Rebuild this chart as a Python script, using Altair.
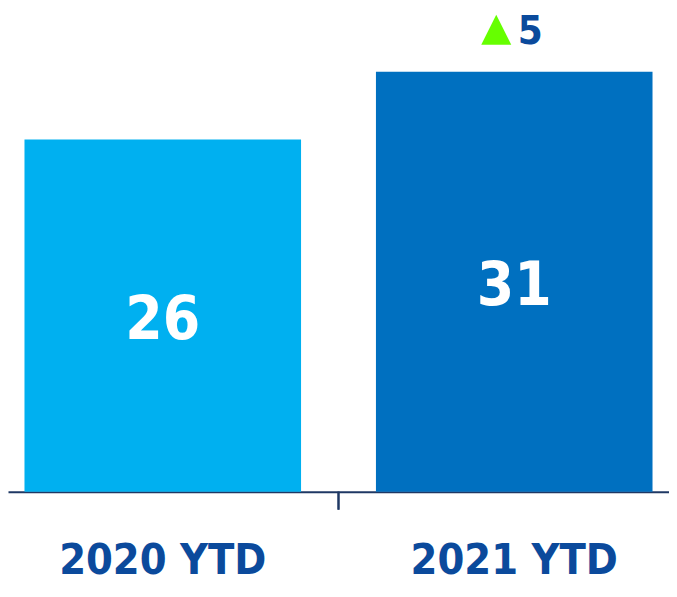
import altair as alt
import pandas as pd

categories = ["2020 YTD", "2021 YTD"]
values = [26, 31]
bar_colors = ["#00B0F0", "#0070C0"]
change_label = ["5"]
change_category = ["2021 YTD"]
change_base = [31]

FONT = "DejaVu Sans Condensed, Liberation Sans Narrow, sans-serif"
NAVY = "#1F3864"
LABEL_BLUE = "#0B4A9C"

df = pd.DataFrame({"cat": categories, "val": values, "color": bar_colors})
df["mid"] = df["val"] / 2
ann = pd.DataFrame({"cat": change_category, "val": change_base, "txt": change_label})

xscale = alt.Scale(domain=categories, paddingInner=0.2131, paddingOuter=0.0469)
yscale = alt.Scale(domain=[0, 35])

x_enc = alt.X("cat:N", scale=xscale, sort=categories,
              axis=alt.Axis(title=None, ticks=False, labelAngle=0, labelLimit=0,
                            domainColor=NAVY, domainWidth=2,
                            labelFont=FONT, labelFontSize=43, labelFontWeight="bold",
                            labelColor=LABEL_BLUE, labelPadding=48))

bars = alt.Chart(df).mark_bar().encode(
    x=x_enc,
    y=alt.Y("val:Q", scale=yscale, axis=None),
    color=alt.Color("color:N", scale=None),
)

vals = alt.Chart(df).mark_text(font=FONT, fontSize=60, fontWeight="bold",
                               color="white", baseline="middle", dy=5).encode(
    x=alt.X("cat:N", scale=xscale, sort=categories),
    y=alt.Y("mid:Q", scale=yscale),
    text=alt.Text("val:Q"),
)

tick = alt.Chart(df).mark_rule(color=NAVY, strokeWidth=2).encode(
    x=alt.value(331), y=alt.value(475), y2=alt.value(493)
)

tri = alt.Chart(ann).mark_point(shape="M-1,1 L0,-1 L1,1 Z", filled=True, size=900,
                                color="#66FF00", opacity=1, xOffset=-18, yOffset=-42).encode(
    x=alt.X("cat:N", scale=xscale, sort=categories),
    y=alt.Y("val:Q", scale=yscale),
)

ann_txt = alt.Chart(ann).mark_text(font=FONT, fontSize=40, fontWeight="bold",
                                   color=LABEL_BLUE, baseline="alphabetic",
                                   dx=16, dy=-28).encode(
    x=alt.X("cat:N", scale=xscale, sort=categories),
    y=alt.Y("val:Q", scale=yscale),
    text="txt:N",
)

chart = alt.layer(bars, vals, tick, tri, ann_txt).properties(
    width=662, height=475,
    autosize="none",
    padding={"left": 0, "top": 9, "right": 0, "bottom": 104},
).configure_view(stroke=None)

chart.save("out.html", embed_options={"renderer": "svg", "actions": False})
